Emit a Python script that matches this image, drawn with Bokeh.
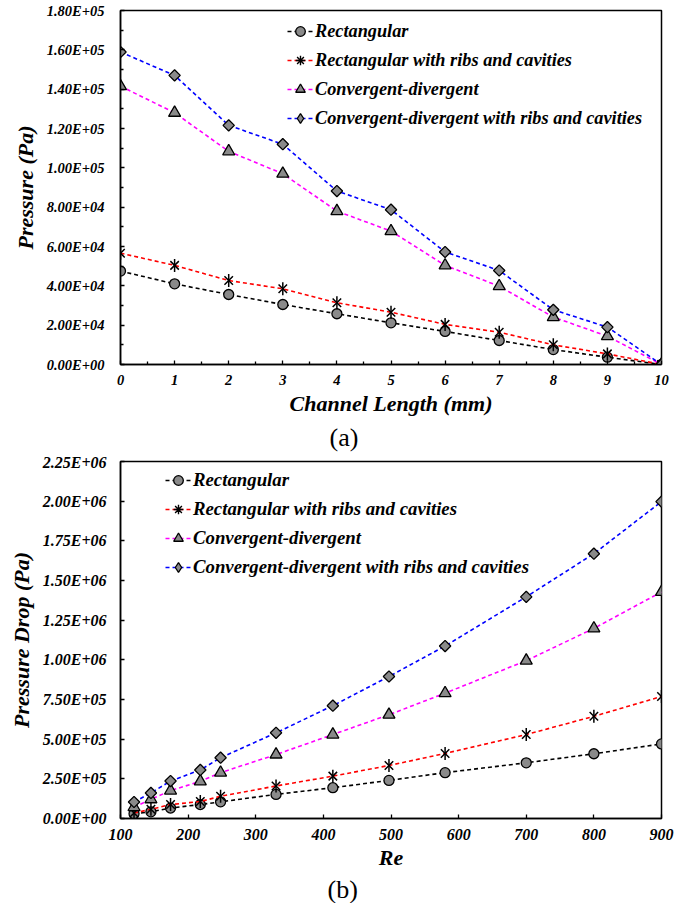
import math
from bokeh.plotting import figure
from bokeh.layouts import column
from bokeh.models import FixedTicker, Legend, LegendItem, Title, Range1d
from bokeh.embed import file_html
from bokeh.resources import INLINE

# ---------------- data (a) ----------------
length_mm = [0, 1, 2, 3, 4, 5, 6, 7, 8, 9, 10]
rect_a = [47500, 41000, 35600, 30500, 25800, 21200, 16800, 12200, 7600, 3700, 0]
rect_ribs_a = [56600, 50400, 42700, 38500, 31400, 26600, 20400, 16400, 10000, 5400, 0]
cd_a = [141500, 128000, 108400, 97000, 78000, 67800, 50400, 39800, 24100, 14400, 0]
cd_ribs_a = [158900, 147000, 121600, 112000, 88200, 78700, 57200, 47800, 27800, 19000, 0]

# ---------------- data (b) ----------------
re_vals = [120, 145, 174, 218, 248, 330, 414, 497, 580, 700, 800, 900]
rect_b = [30000, 42000, 66000, 88000, 105000, 152000, 194000, 240000, 289000, 351000, 408000, 470000]
rect_ribs_b = [35000, 58000, 88000, 107000, 140000, 205000, 267000, 334000, 410000, 529000, 644000, 769000]
cd_b = [72000, 121000, 176000, 234000, 289000, 403000, 529000, 654000, 790000, 995000, 1198000, 1428000]
cd_ribs_b = [104000, 161000, 236000, 306000, 383000, 540000, 711000, 895000, 1087000, 1397000, 1669000, 1997000]

series_names = ["Rectangular", "Rectangular with ribs and cavities",
                "Convergent-divergent", "Convergent-divergent with ribs and cavities"]

# ticks (a)
ya_ticks = [0, 20000, 40000, 60000, 80000, 100000, 120000, 140000, 160000, 180000]
ya_labels = ["0.00E+00", "2.00E+04", "4.00E+04", "6.00E+04", "8.00E+04",
             "1.00E+05", "1.20E+05", "1.40E+05", "1.60E+05", "1.80E+05"]
ya_minor = [10000, 30000, 50000, 70000, 90000, 110000, 130000, 150000, 170000]
xa_ticks = [0, 1, 2, 3, 4, 5, 6, 7, 8, 9, 10]
xa_minor = [0.5, 1.5, 2.5, 3.5, 4.5, 5.5, 6.5, 7.5, 8.5, 9.5]

# ticks (b)
yb_ticks = [0, 250000, 500000, 750000, 1000000, 1250000, 1500000, 1750000, 2000000, 2250000]
yb_labels = ["0.00E+00", "2.50E+05", "5.00E+05", "7.50E+05", "1.00E+06",
             "1.25E+06", "1.50E+06", "1.75E+06", "2.00E+06", "2.25E+06"]
xb_ticks = [100, 200, 300, 400, 500, 600, 700, 800, 900]

FONT = "Liberation Serif"
line_colors = ["black", "red", "magenta", "blue"]
MFILL = "#8a8a8a"
DASH = "4 3"


def style(p, xt, xminor, yt, ylabels, yminor, xlabel, ylabel, tick_size):
    p.xaxis.ticker = FixedTicker(ticks=xt, minor_ticks=xminor)
    p.yaxis.ticker = FixedTicker(ticks=yt, minor_ticks=yminor)
    p.yaxis.major_label_overrides = {t: l for t, l in zip(yt, ylabels)}
    p.xgrid.visible = False
    p.ygrid.visible = False
    p.outline_line_color = "black"
    p.outline_line_width = 1.5
    p.outline_line_alpha = 1
    for ax in (p.xaxis[0], p.yaxis[0]):
        ax.axis_line_width = 1.5
        ax.axis_line_color = "black"
        ax.major_tick_in = 4
        ax.major_tick_out = 0
        ax.minor_tick_in = 3
        ax.minor_tick_out = 0
        ax.major_tick_line_width = 1.3
        ax.minor_tick_line_width = 1.3
        ax.major_tick_line_color = "black"
        ax.minor_tick_line_color = "black"
        ax.major_label_text_font = FONT
        ax.major_label_text_font_style = "bold italic"
        ax.major_label_text_font_size = tick_size
        ax.major_label_text_color = "black"
        ax.axis_label_text_font = FONT
        ax.axis_label_text_font_style = "bold italic"
        ax.axis_label_text_font_size = "22px"
        ax.axis_label_text_color = "black"
    p.xaxis.axis_label = xlabel
    p.yaxis.axis_label = ylabel
    p.xaxis.major_label_standoff = 10
    p.yaxis.axis_label_standoff = 6


def add_series(p, x, ys):
    items = []
    for name, y, c in zip(series_names, ys, line_colors):
        ln = p.line(x, y, line_color=c, line_width=1.6, line_dash=DASH)
        if name == "Rectangular":
            mk = p.scatter(x, y, marker="circle", size=10, fill_color=MFILL,
                           line_color="black", line_width=1.3)
            leg = [ln, mk]
        elif name == "Rectangular with ribs and cavities":
            p.scatter(x, y, marker="x", size=12, line_color="black", line_width=1.5)
            p.scatter(x, y, marker="dash", angle=math.pi / 2, size=13, line_color="black", line_width=1.5)
            # tiny marker used only for the legend symbol (legend draws its own size)
            lm = p.scatter(x, y, marker="asterisk", size=0.5, line_color="black", line_width=1.4)
            leg = [ln, lm]
        elif name == "Convergent-divergent":
            mk = p.scatter(x, y, marker="triangle", size=12, fill_color=MFILL,
                           line_color="black", line_width=1.3)
            leg = [ln, mk]
        else:
            lm = p.scatter(x, y, marker="diamond", size=0.5, fill_color=MFILL,
                           line_color="black", line_width=1.3)
            p.scatter(x, y, marker="square", angle=math.pi / 4, size=8, fill_color=MFILL,
                      line_color="black", line_width=1.3)
            leg = [ln, lm]
        items.append(LegendItem(label=name, renderers=leg))
    return items


def make_legend(items, loc, fsize):
    lg = Legend(items=items, location=loc, orientation="vertical")
    lg.border_line_color = None
    lg.background_fill_alpha = 0
    lg.padding = 0
    lg.margin = 0
    lg.spacing = 5
    lg.glyph_width = 26
    lg.glyph_height = 24
    lg.label_height = 24
    lg.label_standoff = 2
    lg.label_text_font = FONT
    lg.label_text_font_style = "bold italic"
    lg.label_text_font_size = fsize
    lg.label_text_color = "black"
    return lg


# ---------------- figure (a) ----------------
pa = figure(width=681, height=453, output_backend="svg", toolbar_location=None,
            x_range=Range1d(0, 10), y_range=Range1d(0, 180000),
            min_border_left=115, min_border_right=20, min_border_top=10, min_border_bottom=89)
style(pa, xa_ticks, xa_minor, ya_ticks, ya_labels, ya_minor,
      "Channel Length (mm)", "Pressure (Pa)", "14.5px")
pa.yaxis.major_label_standoff = 16
pa.xaxis.axis_label_standoff = 3
items_a = add_series(pa, length_mm, [rect_a, rect_ribs_a, cd_a, cd_ribs_a])
pa.add_layout(make_legend(items_a, (167, 234), "18.3px"))
ta = Title(text="(a)", align="left", offset=209, text_font=FONT, text_font_style="normal",
           text_font_size="26px", text_color="black", standoff=4)
pa.add_layout(ta, "below")

# ---------------- figure (b) ----------------
pb = figure(width=681, height=450, output_backend="svg", toolbar_location=None,
            x_range=Range1d(100, 900), y_range=Range1d(0, 2250000),
            min_border_left=120, min_border_right=20, min_border_top=8, min_border_bottom=84)
style(pb, xb_ticks, [], yb_ticks, yb_labels, [],
      "Re", "Pressure Drop (Pa)", "16px")
pb.yaxis.major_label_standoff = 14
pb.xaxis.axis_label_standoff = 2
items_b = add_series(pb, re_vals, [rect_b, rect_ribs_b, cd_b, cd_ribs_b])
pb.add_layout(make_legend(items_b, (45, 239), "18.8px"))
tb = Title(text="(b)", align="left", offset=207, text_font=FONT, text_font_style="normal",
           text_font_size="26px", text_color="black", standoff=0)
pb.add_layout(tb, "below")

layout = column(pa, pb, spacing=0)
open("out.html", "w").write(file_html(layout, INLINE))
